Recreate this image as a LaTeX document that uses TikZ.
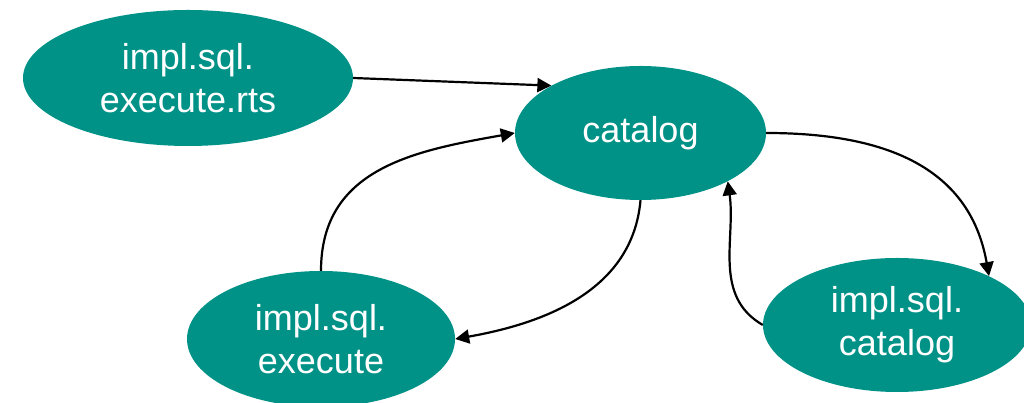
\documentclass[tikz,border=0pt]{standalone}
\usepackage{fontspec}
\setmainfont{Liberation Sans}
\usetikzlibrary{shapes.geometric,arrows.meta}
\definecolor{tealfill}{RGB}{0,146,135}
\tikzset{
  pkg/.style={ellipse, fill=tealfill, draw=none, inner sep=0pt, text=white, align=center,
    font=\fontsize{36}{43}\selectfont},
  dep/.style={line width=2.2pt, -{Triangle[length=14pt,width=14pt]}}
}
\begin{document}
\begin{tikzpicture}[x=1pt,y=1pt]
\useasboundingbox (0,0) rectangle (1024,403);
\node[pkg, minimum width=330pt, minimum height=136pt] (rts) at (188,325) {impl.sql.\\execute.rts};
\node[pkg, minimum width=251pt, minimum height=134pt] (cat) at (640.5,270) {catalog};
\node[pkg, minimum width=268pt, minimum height=136pt] (exe) at (321,64) {impl.sql.\\execute};
\node[pkg, minimum width=268pt, minimum height=134pt] (icat) at (897,78) {impl.sql.\\catalog};
\draw[dep] (rts.east) -- (cat.152);
\draw[dep] (exe.90) to[out=90, in=190, looseness=1.1] (cat.180);
\draw[dep] (cat.-90) to[out=-95, in=10] (exe.0);
\draw[dep] (cat.0) to[out=0, in=100, looseness=1.1] (icat.28);
\draw[dep] (icat.180) to[out=150, in=-82] (cat.-29);
\end{tikzpicture}
\end{document}
